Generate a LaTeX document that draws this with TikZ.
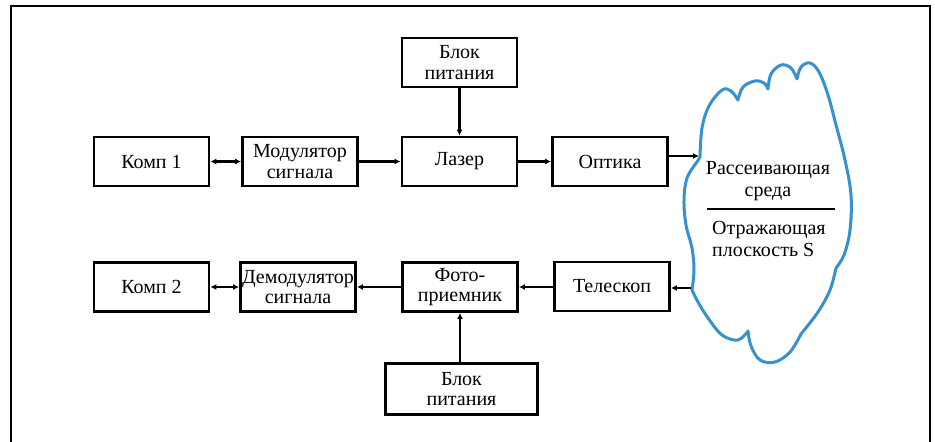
\documentclass[tikz,border=0pt]{standalone}
\usepackage{fontspec}
\setmainfont{Liberation Serif}
\usetikzlibrary{arrows.meta}
\definecolor{cloudblue}{RGB}{55,145,205}
\begin{document}
\begin{tikzpicture}[x=1pt,y=-1pt,
  blk/.style={draw, line width=2.8pt, minimum height=49pt, minimum width=115pt,
    inner sep=0pt, align=center, font=\fontsize{20}{20.5}\selectfont},
  arr/.style={line width=2.3pt, -{Latex[length=6pt,width=6pt]}},
  darr/.style={line width=2.3pt, {Latex[length=6pt,width=6pt]}-{Latex[length=6pt,width=6pt]}},
  txt/.style={font=\fontsize{20}{22}\selectfont, inner sep=0pt}]
\clip (0,0) rectangle (935,442);
\fill[white] (0,0) rectangle (935,442);
\draw[line width=1.6pt] (11,6) rectangle (930,470);

% top row
\node[blk] (k1) at (151.5,161.5) {Комп 1};
\node[blk] (mod) at (300,161.5) {Модулятор\\сигнала};
\node[blk] (laz) at (459.5,161.5) {Лазер};
\node[blk] (bp1) at (459.5,62.5) {Блок\\питания};
\node[blk] (opt) at (610,161.5) {Оптика};

% bottom row
\node[blk] (k2) at (151.5,287) {Комп 2};
\node[blk] (dem) at (298,287) {Демодулятор\\сигнала};
\node[blk] (foto) at (460,287) {Фото-\\приемник};
\node[blk] (tel) at (612,286.5) {Телескоп};
\node[blk, minimum width=152pt, minimum height=51pt] (bp2) at (461.5,389) {Блок\\питания};

% cloud
\draw[cloudblue, line width=3pt, line join=round]
  plot[smooth, tension=0.6] coordinates {(700,157) (702,128) (709,106) (722,90) (731,91) (738,100)}
  -- plot[smooth, tension=0.6] coordinates {(738,100) (743,87) (755,81) (764,83) (768,89)}
  -- plot[smooth, tension=0.6] coordinates {(768,89) (771,74) (781,65) (791,68) (797,79)}
  -- plot[smooth, tension=0.6] coordinates {(797,79) (801,67) (810,63) (819,72) (828,95) (836,125) (845,160) (851,195) (850,230) (844,255) (836,268)}
  -- plot[smooth, tension=0.6] coordinates {(836,268) (830,290) (818,312) (801,334)}
  -- plot[smooth, tension=0.6] coordinates {(801,334) (790,352) (775,362) (760,360) (751,346) (748,331)}
  -- plot[smooth, tension=0.6] coordinates {(748,331) (738,340) (722,335) (708,318) (698,302) (692,290)}
  -- plot[smooth, tension=0.6] coordinates {(692,290) (694,270) (692,248) (686,225) (684,200) (687,178) (697,162)}
  -- cycle;
\coordinate (cin) at (699,156);
\coordinate (cout) at (691,288);
\draw[line width=1.5pt] (707,209) -- (835,209);
\node[txt, align=center] (ctop) at (768,181) {Рассеивающая\\среда};
\node[txt, align=left, anchor=west] (cbot) at (712,239) {Отражающая\\плоскость S};

% connectors
\draw[darr] (k1) -- (mod);
\draw[arr] (mod) -- (laz);
\draw[arr] (bp1) -- (laz);
\draw[arr] (laz) -- (opt);
\draw[arr] (opt.east |- cin) -- (cin);
\draw[arr] (cout) -- (tel.east |- cout);
\draw[arr] (tel.west |- foto) -- (foto);
\draw[arr] (foto) -- (dem);
\draw[darr] (dem) -- (k2);
\draw[arr] (bp2.north -| foto) -- (foto);
\end{tikzpicture}
\end{document}
